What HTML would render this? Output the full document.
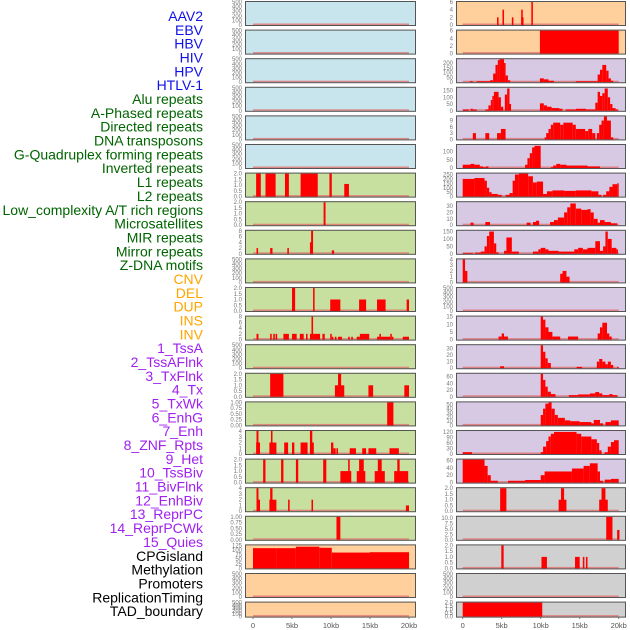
<!DOCTYPE html>
<html><head><meta charset="utf-8"><style>
html,body{margin:0;padding:0;background:#fff;}
svg{display:block;font-family:"Liberation Sans",sans-serif;}
</style></head><body>
<svg id="chart" width="630" height="630" viewBox="0 0 630 630" xmlns="http://www.w3.org/2000/svg"></svg>
<script>
const trackLabels=["AAV2","EBV","HBV","HIV","HPV","HTLV-1","Alu repeats","A-Phased repeats","Directed repeats","DNA transposons","G-Quadruplex forming repeats","Inverted repeats","L1 repeats","L2 repeats","Low_complexity A/T rich regions","Microsatellites","MIR repeats","Mirror repeats","Z-DNA motifs","CNV","DEL","DUP","INS","INV","1_TssA","2_TssAFlnk","3_TxFlnk","4_Tx","5_TxWk","6_EnhG","7_Enh","8_ZNF_Rpts","9_Het","10_TssBiv","11_BivFlnk","12_EnhBiv","13_ReprPC","14_ReprPCWk","15_Quies","CPGisland","Methylation","Promoters","ReplicationTiming","TAD_boundary"];
const labelColors=["#1010e8","#1010e8","#1010e8","#1010e8","#1010e8","#1010e8","#006400","#006400","#006400","#006400","#006400","#006400","#006400","#006400","#006400","#006400","#006400","#006400","#006400","#ffa500","#ffa500","#ffa500","#ffa500","#ffa500","#a020f0","#a020f0","#a020f0","#a020f0","#a020f0","#a020f0","#a020f0","#a020f0","#a020f0","#a020f0","#a020f0","#a020f0","#a020f0","#a020f0","#a020f0","#000","#000","#000","#000","#000"];
const xTicks=[0,5,10,15,20];
const xTickLabels=["0","5kb","10kb","15kb","20kb"];
const T500=["0","100","200","300","400","500"], T2=["0.0","0.5","1.0","1.5","2.0"], T8=["0","2","4","6","8"], T1=["0.00","0.25","0.50","0.75","1.00"], T4=["0","1","2","3","4"];
const leftMax=[500,500,500,500,500,500,2,2,8,500,2,8,500,2,1,4,2,4,1,125,500,500];
const leftTicks=[T500,T500,T500,T500,T500,T500,T2,T2,T8,T500,T2,T8,T500,T2,T1,T4,T2,T4,T1,["0","25","50","75","100","125"],T500,T500];
const leftBg=["#c8e4ec","#c8e4ec","#c8e4ec","#c8e4ec","#c8e4ec","#c8e4ec","#c8e09f","#c8e09f","#c8e09f","#c8e09f","#c8e09f","#c8e09f","#c8e09f","#c8e09f","#c8e09f","#c8e09f","#c8e09f","#c8e09f","#c8e09f","#ffd09c","#ffd09c","#ffd09c"];
const leftBars=[[],[],[],[],[],[],
[[0.4,1.0,2],[1.6,2.9,2],[4.1,4.6,2],[6.1,8.3,2],[9.8,10.1,2],[11.7,12.3,1.1]],
[[9.05,9.3,2]],
[[0.45,0.65,2],[2.2,2.5,2],[4.4,4.6,2],[7.3,7.5,4],[7.45,7.7,8],[10.1,10.4,1.2]],
[],
[[5.0,5.4,2],[7.7,7.9,2],[9.9,11.2,1],[13.6,14.5,1],[15.9,17.0,1],[19.7,20,1]],
[[0.45,0.7,2],[2.2,2.4,2],[2.6,2.8,2],[2.9,3.1,2],[3.9,4.6,2],[5.0,5.6,2],[6.0,6.5,2],[6.8,7.0,2],[7.3,7.5,2],[7.5,7.7,8],[7.7,8.6,2],[8.9,9.2,2],[9.9,10.1,2],[10.1,10.3,1],[10.5,10.7,1],[10.9,11.4,1],[12.2,12.4,1],[12.6,12.8,1],[13.3,13.7,1],[13.7,14.3,2],[14.3,14.9,2],[15.9,16.2,1],[16.2,16.4,2],[16.4,17.6,1],[17.6,17.8,2],[17.8,18.0,1],[19.2,20,1]],
[],
[[2.2,3.9,2],[10.5,11.7,1],[10.9,11.3,2],[14.8,15.4,1],[19.4,20,1]],
[[17.2,18.0,1]],
[[0.4,0.9,2],[0.45,0.7,4],[2.1,3.0,2],[2.3,2.5,4],[4.0,4.5,2],[5.0,5.3,2],[6.1,7.0,2],[7.3,7.8,2],[7.3,7.6,4],[10.0,10.3,2],[10.3,10.6,1],[10.7,10.9,1],[12.4,13.2,1],[14.0,14.5,1],[14.8,15.8,1],[17.5,18.7,1]],
[[1.3,1.6,2],[3.6,3.9,2],[5.5,5.8,2],[9.0,9.4,2],[11.2,12.6,1],[12.2,12.4,2],[13.3,14.4,1],[13.6,14.2,2],[15.6,16.9,1],[16.0,16.5,2],[18.1,19.9,1],[18.5,18.8,2]],
[[0.45,0.9,2],[0.45,0.7,4],[2.1,3.0,2],[2.2,2.5,4],[4.5,4.7,2],[7.5,7.7,2],[19.6,20,1]],
[[10.7,11.2,1]],
[[0,3,110],[3,5.5,110],[5.5,8.5,118],[8.5,10.1,112],[10.1,15,86],[15,20,88]],
[],[]];
const R6t=["0","2","4","6"];
const rightMax=[6,6,240,170,11,140,260,36,155,4,500,15,35,68,55,125,62,2,10.5,2,500,2];
const rightTicks=[R6t,R6t,["0","50","100","150","200"],["0","50","100","150"],["0","3","6","9"],["0","50","100"],["0","50","100","150","200","250"],["0","10","20","30"],["0","50","100","150"],T4,T500,["0","5","10","15"],["0","10","20","30"],["0","20","40","60"],["0","10","20","30","40","50"],["0","30","60","90","120"],["0","20","40","60"],T2,["0.0","2.5","5.0","7.5","10.0"],T2,T500,T2];
const rightBg=["#ffd09c","#ffd09c","#d7c8e4","#d7c8e4","#d7c8e4","#d7c8e4","#d7c8e4","#d7c8e4","#d7c8e4","#d7c8e4","#d7c8e4","#d7c8e4","#d7c8e4","#d7c8e4","#d7c8e4","#d7c8e4","#d7c8e4","#d0d0d0","#d0d0d0","#d0d0d0","#d0d0d0","#d0d0d0"];
const rightBars=[
[[4.4,4.6,2],[5.1,5.3,4],[6.3,6.5,2],[7.5,7.7,4],[7.5,7.8,2],[8.8,9.0,6]],
[[9.9,20,6]],
[[0.9,1.3,10],[1.8,3.5,10],[3.5,3.9,20],[3.9,4.2,90],[4.2,4.5,180],[4.5,4.7,230],[4.7,5.3,240],[5.3,5.5,200],[5.5,5.8,70],[5.8,6.1,20],[9.9,10.4,40],[10.4,11,30],[11,11.7,15],[14.5,17.3,10],[17.3,17.6,80],[17.6,17.9,130],[17.9,18.4,180],[18.4,18.7,120],[18.7,19.0,40],[19.0,19.3,15]],
[[0,0.8,10],[1,1.3,15],[1.3,1.8,10],[2.9,3.3,10],[3.3,3.6,40],[3.6,3.8,80],[3.8,4.0,110],[4.0,4.6,140],[4.6,4.9,100],[4.9,5.2,30],[5.4,5.7,120],[5.7,6.0,165],[6.0,6.2,50],[9.9,10.4,55],[10.4,10.8,40],[10.8,11.4,30],[11.4,12.4,20],[12.4,12.8,15],[13.2,14.5,10],[14.5,15.8,15],[15.8,17.0,10],[17.0,17.3,60],[17.3,17.6,140],[17.6,17.9,110],[17.9,18.2,130],[18.2,18.6,165],[18.6,18.9,100],[18.9,19.2,50],[19.2,19.6,20],[19.6,19.9,10]],
[[1.3,1.7,3],[2.9,3.4,3],[4.4,4.9,3],[4.9,5.5,5],[10.5,10.7,1],[10.7,11.0,3],[11.0,11.3,5],[11.3,11.6,7],[11.6,12.5,8],[12.5,12.9,7],[12.9,14.1,8],[14.1,14.5,7],[14.5,15.7,5],[15.7,16.1,4],[16.1,16.6,5],[16.6,17.0,3],[17.2,17.5,3],[17.5,17.8,7],[17.8,18.1,9],[18.1,18.5,11],[18.5,19.0,9],[19.0,19.3,1]],
[[0,1.0,20],[1.0,1.5,25],[1.5,2.2,20],[2.2,2.6,10],[2.6,3.0,5],[3.0,3.3,10],[8.0,8.3,20],[8.3,8.6,60],[8.6,8.9,90],[8.9,9.2,125],[9.2,10.0,135],[11.3,11.6,5],[11.6,12.0,15],[12.0,12.5,25],[12.5,13.3,20],[13.3,16.0,15],[16.0,17.6,10]],
[[0,1.5,200],[1.5,2.8,210],[2.8,3.1,180],[3.1,3.4,100],[3.4,3.7,50],[3.7,4.5,30],[4.5,5,20],[5.5,6.0,20],[6.0,6.4,40],[6.4,6.7,180],[6.7,7.2,250],[7.2,8.4,260],[8.4,9.0,230],[9.0,9.5,160],[9.5,10.3,170],[10.3,10.8,30],[10.8,11.5,60],[11.5,13.0,70],[13.0,14.5,65],[14.5,16.5,70],[16.5,17.4,60],[17.4,17.8,20],[18.0,18.4,20],[18.4,18.8,60],[18.8,19.2,110],[19.2,19.8,140],[19.8,20,150]],
[[1.0,1.4,4],[2.9,3.5,5],[8.2,8.7,4],[9.0,9.4,5],[9.4,9.8,7],[11.2,11.7,5],[11.7,12.2,8],[12.2,13.0,12],[13.0,13.4,20],[13.4,13.8,28],[13.8,14.5,34],[14.5,15.2,26],[15.2,16.0,24],[16.0,16.4,25],[16.4,16.8,20],[16.8,17.3,10],[17.3,17.6,4],[17.6,18.2,8],[18.2,19.0,5],[19.0,19.8,3]],
[[0,1.3,5],[1.6,2.3,8],[2.3,2.8,15],[2.8,3.1,50],[3.1,3.4,120],[3.4,4.0,150],[4.0,4.3,70],[4.3,4.6,10],[5.3,5.6,20],[5.6,6.3,110],[6.3,7.2,15],[9.0,9.7,15],[9.7,10.0,30],[10.0,10.6,40],[10.6,11.0,30],[11.0,12.3,20],[12.3,14.3,15],[14.3,14.8,30],[14.8,15.4,40],[15.4,16.0,30],[16.0,17.0,40],[17.0,17.6,85],[17.6,18.0,20],[18.0,18.3,50],[18.3,18.6,150],[18.6,19.1,100],[19.1,19.7,40],[19.7,19.9,30]],
[[0,0.3,4],[0.3,0.6,2],[12.5,12.8,1.5],[12.8,13.3,2],[13.3,13.7,1]],
[],
[[4.6,5.0,2],[5.0,5.3,4],[5.3,5.8,2],[10.0,10.3,15],[10.3,10.6,13],[10.6,11.0,8],[11.0,11.5,5],[11.5,12.5,2],[13.5,14.8,2],[17.3,17.6,4],[17.6,17.9,8],[17.9,18.5,11],[18.5,18.8,4],[18.8,19.1,2]],
[[4.8,5.3,3],[10.0,10.3,35],[10.3,10.6,25],[10.6,10.9,15],[10.9,11.3,8],[14.6,15.3,2],[17.2,17.5,10],[17.5,17.9,14],[17.9,18.3,10],[18.3,18.6,6],[18.6,19.0,10],[19.0,19.3,5],[19.8,20,2]],
[[10.0,10.3,68],[10.3,10.6,50],[10.6,10.9,30],[10.9,11.3,15],[11.3,11.9,8],[13.6,14.8,5],[14.8,16.3,7],[16.3,17.0,10],[17.0,17.5,14],[17.5,17.9,10],[17.9,18.8,5],[18.8,19.2,8],[19.2,19.8,5]],
[[10.0,10.3,25],[10.3,10.6,40],[10.6,11.0,52],[11.0,11.4,55],[11.4,11.8,40],[11.8,12.2,25],[12.2,13.1,18],[13.1,13.8,12],[13.8,15.0,10],[15.0,16.5,8],[16.5,16.8,5],[16.8,17.6,13],[17.6,18.0,5],[18.3,19.0,8],[19.0,20,12]],
[[0,1.2,10],[10.0,10.3,10],[10.3,10.7,40],[10.7,11.0,70],[11.0,11.3,95],[11.3,11.7,110],[11.7,14.6,120],[14.6,15.2,110],[15.2,16.5,95],[16.5,17.2,80],[17.2,17.5,60],[17.5,17.8,20],[18.2,18.6,10],[18.6,19.0,40],[19.0,19.4,65],[19.4,20,75]],
[[0,2.8,62],[2.8,3.2,45],[3.2,3.6,20],[3.6,4.5,5],[5.8,8.0,5],[8.0,10.0,7],[10.0,10.5,20],[10.5,11.0,30],[11.0,14.0,30],[14.0,15.5,38],[15.5,16.3,45],[16.3,17.3,52],[17.3,17.6,30],[17.6,18.0,5],[18.2,19.0,8],[19.0,20,10]],
[[4.8,5.6,2],[12.3,13.3,1],[12.6,13.0,2],[17.5,18.6,1],[17.8,18.3,2]],
[[18.4,19.2,10.5],[19.8,20.1,4.5]],
[[4.95,5.25,2],[10.1,10.8,1],[14.4,15.0,1],[15.4,15.6,1],[15.8,16.0,1]],
[],
[[0,10.2,2]]];

const NS="http://www.w3.org/2000/svg";
const svg=document.getElementById('chart');
function mk(tag,attrs,parent){const e=document.createElementNS(NS,tag);for(const k in attrs)e.setAttribute(k,attrs[k]);(parent||svg).appendChild(e);return e;}
const KB_PX=7.8;
const panels=[{x0:245,x1:416,zero:253,max:leftMax,ticks:leftTicks,bg:leftBg,bars:leftBars,side:'left'},{x0:456,x1:626,zero:462.7,max:rightMax,ticks:rightTicks,bg:rightBg,bars:rightBars,side:'right'}];
function rowTop(i){return 1+28.6*i;}
function rowH(i){return i===21?16:25;}

// labels
trackLabels.forEach((t,i)=>{
  const el=mk('text',{x:203,y:(21+13.84*i).toFixed(1),'text-anchor':'end','font-size':'14',fill:labelColors[i]});
  el.textContent=t;
  
  
});

panels.forEach(p=>{
  const xs=kb=>p.zero+kb*KB_PX;
  for(let i=0;i<22;i++){
    const top=rowTop(i),h=rowH(i),bot=top+h;
    const g=mk('g',{});
    
    
    mk('rect',{x:p.x0,y:top,width:p.x1-p.x0,height:h,fill:p.bg[i]},g);
    const ys=v=>bot-1-(v/p.max[i])*(h-2);
    mk('rect',{x:xs(0),y:bot-2.5,width:xs(20)-xs(0),height:1.5,fill:'#e07070',opacity:0.8},g);
    p.bars[i].forEach(b=>{
      const r=mk('rect',{x:xs(b[0]).toFixed(2),y:ys(b[2]).toFixed(2),width:(xs(b[1])-xs(b[0])).toFixed(2),height:(bot-1-ys(b[2])).toFixed(2),fill:'#ff0000'},g);
      
      
    });
    mk('rect',{x:p.x0+0.5,y:top+0.5,width:p.x1-p.x0-1,height:h-1,fill:'none',stroke:'#555',"stroke-width":1},g);
    const tk=p.ticks[i];
    const n=tk.length;
    tk.forEach((lab,j)=>{
      const v=parseFloat(lab);
      const y=ys(v);
      const t=mk('text',{x:p.x0-3,y:(y+2).toFixed(1),'text-anchor':'end','font-size':'6',fill:'#777'},g);
      t.textContent=lab;
      
      
    });
  }
  xTicks.forEach((k,j)=>{
    mk('line',{x1:xs(k),x2:xs(k),y1:617,y2:619,stroke:'#777'});
    const t=mk('text',{x:xs(k),y:628,'text-anchor':'middle','font-size':'7.5',fill:'#555'});
    t.textContent=xTickLabels[j];
    
    
  });
});
</script>
</body></html>
